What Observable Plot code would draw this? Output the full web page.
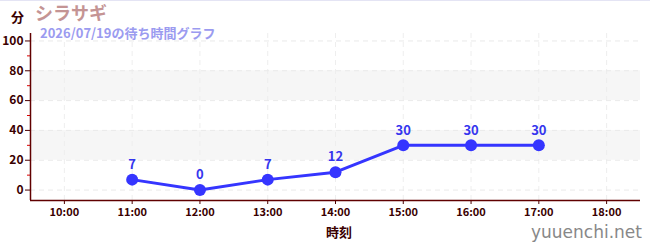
<!DOCTYPE html>
<html><head><meta charset="utf-8">
<script src="https://cdn.jsdelivr.net/npm/d3@7"></script>
<script src="https://cdn.jsdelivr.net/npm/@observablehq/plot@0.6"></script>
<style>
body{margin:0;background:#fff;font-family:"Noto Sans CJK JP","Noto Sans",sans-serif;}
#wrap{position:relative;width:650px;height:250px;overflow:hidden;border-top:1px solid #e4e4f4;box-sizing:border-box;}
#wrap svg{position:absolute;left:0;top:-1px;}
.t{position:absolute;white-space:nowrap;font-weight:bold;}
</style></head>
<body><div id="wrap">
<div class="t" id="unit" style="left:11px;top:6px;font-size:13px;color:#3a0000;">分</div>
<div class="t" id="title" style="left:35px;top:-2px;font-size:18px;color:#c49494;">シラサギ</div>
<div class="t" id="sub" style="left:40px;top:22px;font-size:13px;color:#9b9bf0;">2026/07/19の待ち時間グラフ</div>
<div class="t" id="xlab" style="left:326px;top:221px;font-size:13px;color:#3a0000;">時刻</div>
<div class="t" id="wm" style="left:531px;top:221px;font-size:17px;font-weight:normal;color:#888;font-family:'DejaVu Sans',sans-serif;">yuuenchi.net</div>
</div>
<script>
const times = ["11:00","12:00","13:00","14:00","15:00","16:00","17:00"];
const waits = [7, 0, 7, 12, 30, 30, 30];
const xTickLabels = ["10:00","11:00","12:00","13:00","14:00","15:00","16:00","17:00","18:00"];
const yTicks = [0, 20, 40, 60, 80, 100];
const yMinorTicks = [10, 30, 50, 70, 90];
const bands = [[20, 40], [60, 80]];
const xDomain = [9.5, 18.5];
const yDomain = [-7, 105];

const toH = s => +s.split(":")[0];
const data = times.map((t, i) => ({x: toH(t), y: waits[i]}));
const xTicks = xTickLabels.map(toH);
const bandData = bands.map(([a, b]) => ({y1: a, y2: b}));

const dark = "#4a0000";
const plot = Plot.plot({
  width: 650, height: 250,
  marginLeft: 30, marginRight: 10, marginTop: 33, marginBottom: 50,
  style: {fontFamily: "'Noto Sans CJK JP', sans-serif", fontSize: "11px", background: "transparent", overflow: "visible"},
  x: {domain: xDomain, ticks: xTicks},
  y: {domain: yDomain},
  marks: [
    Plot.rect(bandData, {y1: "y1", y2: "y2", fill: "#f6f6f6"}),
    Plot.gridX(xTicks, {stroke: "#eeeeee", strokeOpacity: 1, strokeDasharray: "5,4"}),
    Plot.gridY(yTicks, {stroke: "#eaeaea", strokeOpacity: 1, strokeDasharray: "5,4"}),
    Plot.axisY(yMinorTicks, {tickSize: 3, stroke: "#dd0000", text: null, label: null}),
    Plot.axisY(yTicks, {tickSize: 5, stroke: dark, fill: "#3a0000", fontWeight: "bold", fontSize: 12, tickPadding: 2, label: null}),
    Plot.axisX(xTicks, {tickSize: 4, stroke: dark, fill: "#3a0000", fontWeight: "bold", fontSize: 11, tickPadding: 4, label: null,
      tickFormat: d => xTickLabels[xTicks.indexOf(d)]}),
    Plot.ruleX([xDomain[0]], {stroke: "#600000", strokeWidth: 1.5}),
    Plot.ruleY([yDomain[0]], {stroke: "#600000", strokeWidth: 1.5}),
    Plot.line(data, {x: "x", y: "y", stroke: "#3535ff", strokeWidth: 3}),
    Plot.dot(data, {x: "x", y: "y", r: 6, fill: "#3535ff"}),
    Plot.text(data, {x: "x", y: "y", text: d => String(d.y), dy: -15, fill: "#3535ee", fontWeight: "bold", fontSize: 13})
  ]
});
document.getElementById("wrap").prepend(plot);
</script>
</body></html>
